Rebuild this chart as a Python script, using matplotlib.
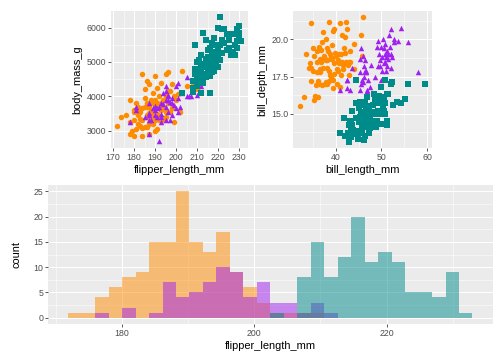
import numpy as np
import matplotlib
matplotlib.use("Agg")
import matplotlib.pyplot as plt

plt.rcParams['font.family'] = ['Liberation Sans', 'DejaVu Sans']

species = ['Adelie', 'Chinstrap', 'Gentoo']
colors = {'Adelie': '#FF8C00', 'Chinstrap': '#A020F0', 'Gentoo': '#008B8B'}
markers = {'Adelie': 'o', 'Chinstrap': '^', 'Gentoo': 's'}

# --- flipper_length_mm vs body_mass_g
adelie_flip_mass = [
    (172, 3150), (174, 3400), (176, 3450), (178, 3900), (178, 2900), (178, 3250), (179, 3000),
    (180, 2850), (180, 3550), (180, 3600), (181, 3800), (181, 3050), (181, 3625), (182, 3200),
    (182, 3700), (183, 3550), (183, 3150), (184, 2850), (184, 3650), (184, 3325), (184, 4650),
    (185, 3100), (185, 3700), (185, 3950), (185, 4200), (186, 3800), (186, 3100), (186, 3450),
    (186, 4450), (187, 3200), (187, 3700), (187, 2900), (187, 4350), (188, 3300), (188, 3900),
    (188, 3600), (189, 3500), (189, 3200), (189, 4100), (190, 3700), (190, 4600), (190, 3450),
    (190, 3000), (190, 3900), (191, 4250), (191, 3800), (191, 3050), (191, 3500), (192, 3400),
    (192, 4000), (192, 3650), (193, 3600), (193, 4400), (193, 3800), (194, 3325), (194, 3900),
    (195, 4000), (195, 3400), (195, 4650), (195, 3550), (196, 3800), (196, 4700), (196, 4150),
    (197, 4150), (197, 3550), (198, 4350), (198, 3650), (199, 4000), (199, 3250), (200, 3900),
    (201, 4075), (202, 3550), (203, 4725), (205, 4300), (208, 4400), (210, 4200), (186, 3400),
    (188, 3450), (190, 3325), (182, 3450), (184, 3075), (187, 3525), (189, 3800), (192, 3300),
    (194, 3700), (196, 3550), (186, 3700), (183, 3350), (180, 3300), (191, 3700), (193, 3400),
]
chinstrap_flip_mass = [
    (178, 3250), (181, 3700), (181, 3600), (185, 3400), (187, 2900), (187, 3300), (187, 3800),
    (187, 3525), (188, 3325), (189, 3650), (190, 3450), (190, 3600), (190, 3725), (191, 3650),
    (192, 2700), (192, 3700), (193, 3500), (193, 3800), (193, 3400), (194, 3775), (195, 4150),
    (195, 3700), (195, 3300), (195, 3900), (196, 4050), (196, 3550), (196, 3900), (197, 3850),
    (197, 3300), (198, 3450), (198, 3800), (198, 3950), (199, 3750), (200, 3650), (200, 4300),
    (201, 4400), (201, 3950), (202, 3700), (203, 4100), (205, 4550), (205, 4000), (206, 4000),
    (207, 4000), (210, 4800), (210, 4050), (212, 4300), (194, 4100), (196, 4000), (201, 3550),
    (193, 3250), (191, 3400), (195, 4300), (187, 3450),
]
gentoo_flip_mass = [
    (203, 4100), (208, 4125), (208, 4250), (208, 4450), (209, 4650), (209, 4800), (209, 5500),
    (210, 4400), (210, 4700), (210, 4300), (210, 5000), (211, 4550), (211, 4800), (211, 5050),
    (212, 4100), (212, 4500), (212, 4875), (212, 5200), (213, 4650), (213, 4950), (213, 5850),
    (214, 4550), (214, 5100), (214, 5650), (215, 4750), (215, 5000), (215, 5350), (216, 4100),
    (216, 4600), (216, 4950), (216, 5400), (217, 4900), (217, 5200), (217, 5550), (218, 4750),
    (218, 5100), (218, 5700), (219, 4950), (219, 5250), (219, 5500), (220, 5100), (220, 5300),
    (220, 5400), (220, 6000), (221, 5050), (221, 5500), (221, 6300), (222, 5250), (222, 5650),
    (222, 5950), (223, 5550), (223, 5950), (224, 5350), (224, 5800), (225, 5400), (225, 5650),
    (226, 5200), (226, 5800), (227, 5300), (228, 5200), (228, 5500), (228, 5800), (229, 5400),
    (229, 5600), (229, 5950), (230, 5700), (230, 5750), (230, 6050), (230, 5850), (231, 5600),
    (214, 4850), (215, 5150), (216, 5100), (217, 4700), (218, 5300), (220, 4850), (212, 4750),
    (210, 4600), (213, 4400),
]

# --- bill_length_mm vs bill_depth_mm
adelie_bill = [
    (32.1, 15.5), (33.1, 16.1), (33.5, 19.0), (34.1, 18.1), (34.4, 18.4), (34.5, 18.1), (34.6, 21.1),
    (34.6, 17.2), (35.0, 17.9), (35.1, 19.4), (35.3, 18.9), (35.5, 16.2), (35.7, 16.9), (35.9, 19.2),
    (36.0, 17.8), (36.0, 18.5), (36.2, 17.2), (36.3, 19.5), (36.4, 17.0), (36.5, 18.0), (36.6, 17.8),
    (36.7, 19.3), (36.8, 18.5), (36.9, 18.6), (37.0, 16.9), (37.2, 18.1), (37.3, 20.5), (37.5, 18.9),
    (37.6, 17.0), (37.7, 18.7), (37.8, 17.1), (37.8, 20.0), (37.9, 18.6), (38.1, 18.6), (38.1, 17.0),
    (38.2, 18.1), (38.3, 19.2), (38.5, 17.9), (38.6, 21.2), (38.6, 17.2), (38.7, 19.0), (38.8, 17.6),
    (38.9, 18.8), (39.0, 17.5), (39.0, 18.7), (39.1, 18.7), (39.2, 19.6), (39.3, 20.6), (39.5, 16.7),
    (39.6, 17.7), (39.6, 20.7), (39.7, 18.4), (39.8, 19.1), (40.1, 18.9), (40.2, 17.0), (40.3, 18.0),
    (40.5, 17.9), (40.6, 18.6), (40.7, 19.0), (40.8, 18.4), (40.9, 16.8), (41.1, 17.6), (41.1, 19.0),
    (41.3, 20.3), (41.4, 18.5), (41.5, 18.3), (41.6, 18.0), (41.8, 19.4), (42.0, 20.2), (42.1, 19.1),
    (42.2, 18.5), (42.3, 21.2), (42.5, 20.7), (42.7, 18.3), (42.8, 18.5), (42.9, 17.6), (43.1, 19.2),
    (43.2, 18.5), (44.1, 19.7), (44.1, 18.0), (45.6, 20.3), (45.8, 18.9), (46.0, 21.5), (35.2, 15.9),
    (36.2, 16.1), (40.9, 21.1), (37.0, 19.8), (38.0, 19.4), (36.5, 18.7), (39.5, 17.3),
]
chinstrap_bill = [
    (40.9, 16.6), (42.4, 17.3), (42.5, 16.7), (42.5, 17.3), (43.2, 16.6), (43.5, 18.1), (45.2, 17.8),
    (45.2, 16.6), (45.4, 18.7), (45.5, 17.0), (45.6, 19.4), (45.7, 17.3), (45.9, 17.1), (46.0, 18.9),
    (46.1, 18.2), (46.2, 17.5), (46.4, 18.6), (46.4, 17.8), (46.5, 17.9), (46.6, 17.8), (46.7, 17.9),
    (46.8, 16.5), (46.9, 16.6), (47.0, 17.3), (47.5, 16.8), (47.6, 18.3), (48.1, 16.4), (48.5, 17.5),
    (49.0, 19.5), (49.2, 18.2), (49.3, 19.9), (49.5, 19.0), (49.6, 18.2), (49.7, 18.6), (49.8, 17.3),
    (50.0, 19.5), (50.1, 17.9), (50.2, 18.8), (50.3, 20.0), (50.5, 18.4), (50.6, 19.4), (50.7, 19.7),
    (50.8, 18.5), (50.8, 19.0), (50.9, 17.9), (51.0, 18.8), (51.3, 19.2), (51.3, 18.2), (51.4, 19.0),
    (51.5, 18.7), (51.7, 20.3), (51.9, 19.5), (52.0, 18.1), (52.0, 19.0), (52.0, 20.7), (52.2, 18.8),
    (52.7, 19.8), (52.8, 20.0), (53.5, 19.9), (54.2, 20.8), (55.8, 19.8), (58.0, 17.8),
]
gentoo_bill = [
    (40.9, 13.7), (41.7, 14.7), (42.0, 13.5), (42.6, 13.7), (42.7, 13.7), (42.8, 14.2), (42.9, 13.1),
    (43.2, 14.5), (43.3, 13.4), (43.3, 14.0), (43.4, 14.4), (43.5, 14.2), (43.5, 15.2), (43.6, 13.9),
    (43.8, 13.9), (44.0, 13.6), (44.4, 17.3), (44.5, 14.7), (44.5, 15.7), (44.9, 13.3), (44.9, 13.8),
    (45.0, 15.4), (45.1, 14.5), (45.1, 14.4), (45.2, 13.8), (45.2, 14.8), (45.2, 15.8), (45.3, 13.7),
    (45.3, 13.8), (45.4, 14.6), (45.5, 13.7), (45.5, 14.5), (45.5, 15.0), (45.7, 13.9), (45.8, 14.2),
    (45.8, 14.6), (46.1, 13.2), (46.1, 15.1), (46.2, 14.1), (46.2, 14.4), (46.3, 15.8), (46.4, 15.0),
    (46.4, 15.6), (46.5, 13.5), (46.5, 14.4), (46.6, 14.2), (46.7, 15.3), (46.8, 14.3), (46.8, 15.4),
    (46.8, 16.1), (46.9, 14.6), (47.2, 13.7), (47.2, 15.5), (47.3, 13.8), (47.4, 14.6), (47.5, 14.0),
    (47.5, 15.0), (47.6, 14.5), (47.7, 15.0), (47.8, 15.0), (48.1, 15.1), (48.2, 14.3), (48.2, 15.6),
    (48.4, 14.4), (48.4, 16.3), (48.5, 14.1), (48.5, 15.0), (48.6, 16.0), (48.7, 14.1), (48.7, 15.1),
    (48.8, 16.2), (49.0, 16.1), (49.1, 14.5), (49.1, 15.0), (49.2, 15.2), (49.3, 15.7), (49.4, 15.8),
    (49.5, 16.1), (49.5, 16.2), (49.6, 15.0), (49.6, 16.0), (49.8, 15.9), (49.8, 16.8), (49.9, 16.1),
    (50.0, 15.2), (50.0, 15.9), (50.1, 15.0), (50.2, 14.3), (50.4, 15.3), (50.4, 15.7), (50.5, 15.2),
    (50.5, 15.9), (50.7, 15.0), (50.8, 15.7), (50.8, 17.3), (51.1, 14.5), (51.1, 16.3), (51.3, 14.2),
    (51.5, 16.3), (52.1, 17.0), (52.2, 17.1), (52.5, 15.6), (53.4, 15.8), (54.3, 15.7), (55.1, 16.0),
    (55.9, 17.0), (59.6, 17.0),
]

# --- histogram: counts per bin (30 bins over flipper range 172..231)
flipper_min, flipper_max, n_bins = 172, 231, 30
adelie_counts = [1, 1, 4, 6, 8, 9, 15, 15, 25, 15, 13, 17, 9, 6, 3, 1, 1, 1, 1, 0,
                 0, 0, 0, 0, 0, 0, 0, 0, 0, 0]
chinstrap_counts = [0, 0, 1, 0, 2, 0, 1, 7, 4, 5, 7, 10, 9, 4, 7, 3, 3, 1, 3, 1,
                    0, 0, 0, 0, 0, 0, 0, 0, 0, 0]
gentoo_counts = [0, 0, 0, 0, 0, 0, 0, 0, 0, 0, 0, 0, 0, 0, 0, 1, 0, 8, 15, 8,
                 12, 20, 11, 13, 11, 5, 5, 4, 9, 1]

scatter1 = {'Adelie': adelie_flip_mass, 'Chinstrap': chinstrap_flip_mass, 'Gentoo': gentoo_flip_mass}
scatter2 = {'Adelie': adelie_bill, 'Chinstrap': chinstrap_bill, 'Gentoo': gentoo_bill}
hist_counts = {'Adelie': adelie_counts, 'Chinstrap': chinstrap_counts, 'Gentoo': gentoo_counts}


def gg_style(ax, xmaj, xmin, ymaj, ymin, ylabels=None):
    ax.set_facecolor('#EBEBEB')
    for s in ax.spines.values():
        s.set_visible(False)
    ax.set_xticks(xmaj)
    ax.set_xticks(xmin, minor=True)
    ax.set_yticks(ymaj)
    ax.set_yticks(ymin, minor=True)
    if ylabels is not None:
        ax.set_yticklabels(ylabels)
    ax.grid(which='major', color='white', linewidth=1.07)
    ax.grid(which='minor', color='white', linewidth=0.53)
    ax.set_axisbelow(True)
    ax.tick_params(which='major', length=2.75, width=0.8, color='#333333',
                   labelsize=8.8, labelcolor='#4D4D4D', pad=2.2)
    ax.tick_params(which='minor', length=0)


def expand(lo, hi, f=0.05):
    d = (hi - lo) * f
    return lo - d, hi + d


W, H = 504, 360
fig = plt.figure(figsize=(W / 72, H / 72), dpi=72)


def px_axes(left, top, right, bottom):
    return fig.add_axes([left / W, 1 - bottom / H, (right - left) / W, (bottom - top) / H])


# top-left scatter
ax1 = px_axes(111, 11, 247.5, 148)
for sp in species:
    pts = np.array(scatter1[sp], dtype=float)
    ax1.scatter(pts[:, 0], pts[:, 1], s=30, marker=markers[sp], color=colors[sp],
                linewidths=0, zorder=3)
ax1.set_xlim(*expand(172, 231))
ax1.set_ylim(*expand(2700, 6300))
gg_style(ax1, [170, 180, 190, 200, 210, 220, 230], [175, 185, 195, 205, 215, 225],
         [3000, 4000, 5000, 6000], [2500, 3500, 4500, 5500])
ax1.set_xlabel('flipper_length_mm', fontsize=11, labelpad=3)
ax1.set_ylabel('body_mass_g', fontsize=11, labelpad=4)

# top-right scatter
ax2 = px_axes(293.3, 11, 431.7, 148)
for sp in species:
    pts = np.array(scatter2[sp], dtype=float)
    ax2.scatter(pts[:, 0], pts[:, 1], s=30, marker=markers[sp], color=colors[sp],
                linewidths=0, zorder=3)
ax2.set_xlim(*expand(32.1, 59.6))
ax2.set_ylim(*expand(13.1, 21.5))
gg_style(ax2, [40, 50, 60], [35, 45, 55], [15.0, 17.5, 20.0], [13.75, 16.25, 18.75, 21.25],
         ylabels=['15.0', '17.5', '20.0'])
ax2.set_xlabel('bill_length_mm', fontsize=11, labelpad=3)
ax2.set_ylabel('bill_depth_mm', fontsize=11, labelpad=4)

# bottom histogram (ggplot-style bin placement)
width = (flipper_max - flipper_min) / (n_bins - 1)
boundary = width / 2
origin = boundary + np.floor((flipper_min - boundary) / width) * width
edges = origin + width * np.arange(n_bins + 1)

ax3 = px_axes(48, 185, 492.7, 324)
for sp in species:
    ax3.bar(edges[:-1], hist_counts[sp], width=width, align='edge', color=colors[sp],
            alpha=0.5, linewidth=0, zorder=3)
ax3.set_xlim(*expand(edges[0], edges[-1]))
ax3.set_ylim(*expand(0, 25))
gg_style(ax3, [180, 200, 220], [170, 190, 210, 230], [0, 5, 10, 15, 20, 25],
         [2.5, 7.5, 12.5, 17.5, 22.5])
ax3.set_xlabel('flipper_length_mm', fontsize=11, labelpad=3)
ax3.set_ylabel('count', fontsize=11, labelpad=12)

fig.savefig('out.png', dpi=72, facecolor='white')
